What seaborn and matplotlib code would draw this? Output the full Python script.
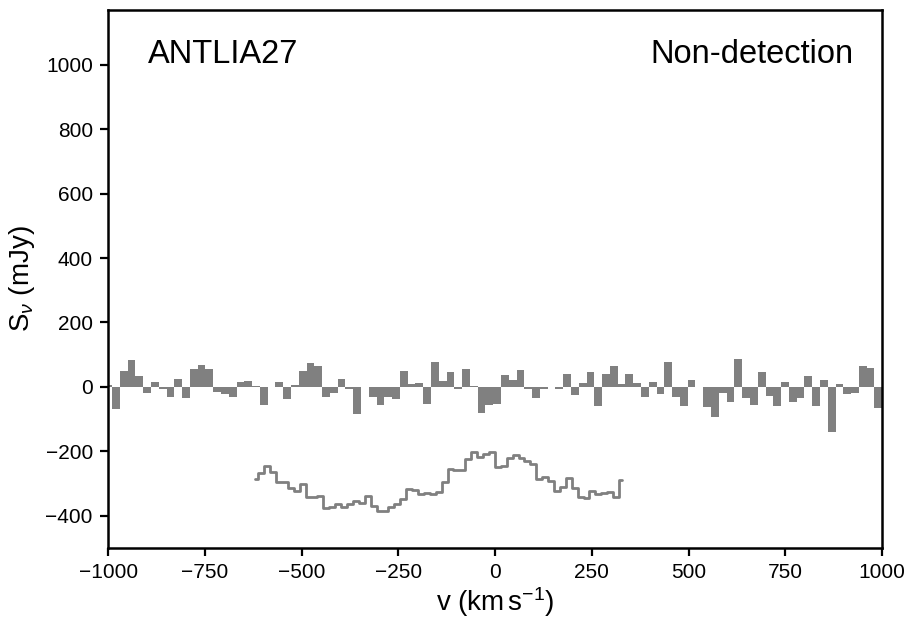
import numpy as np
import pandas as pd
import matplotlib
matplotlib.use("Agg")
import matplotlib.pyplot as plt
import seaborn as sns

# Channel grid of the detection spectrum (bars)
chan_start = -1009.8   # left edge of first channel, km/s
chan_width = 20.1      # km/s
flux_bars = [7, -70, 50, 84, 34, -18, 15, -6, -33, 25,
             -36, 56, 68, 56, -15, -21, -33, 15, 19, 2,
             -55, -2, 15, -39, 7, 50, 74, 65, -33, -18,
             25, -8, -83, -2, -30, -55, -30, -39, 50, 9,
             12, -52, 78, 19, 47, -6, 56, 3, -80, -55,
             -52, 37, 22, 53, -8, -36, -8, 0, -8, 40,
             -24, 12, 47, -61, 40, 65, 9, 40, 12, -30,
             15, -21, 78, -33, -61, 22, -2, -64, -95, -18,
             -46, 87, -36, -55, 47, -27, -61, 15, -46, -36,
             34, -58, 22, -139, 9, -21, -18, 65, 59, -67]

# Offset comparison spectrum (step line)
line_start = -619.4    # first channel centre, km/s
line_width = 15.28     # km/s
flux_line = [-286, -268, -245, -263, -297, -297, -313, -323, -301, -341,
             -341, -338, -377, -374, -363, -372, -363, -354, -361, -339,
             -370, -387, -385, -374, -363, -349, -317, -320, -332, -330,
             -332, -328, -297, -255, -258, -258, -224, -201, -218, -209,
             -203, -249, -245, -221, -211, -221, -229, -239, -286, -279,
             -292, -323, -310, -284, -315, -343, -346, -323, -333, -330,
             -325, -341, -289]

name = "ANTLIA27"
status = "Non-detection"

centres = chan_start + chan_width * (np.arange(len(flux_bars)) + 0.5)
bars = pd.DataFrame({"v": centres, "S": flux_bars})
line = pd.DataFrame({"v": line_start + line_width * np.arange(len(flux_line)),
                     "S": flux_line})

sns.set_theme(style="ticks")
plt.rcParams["font.family"] = ["Liberation Sans", "DejaVu Sans"]
plt.rcParams["mathtext.fontset"] = "custom"
plt.rcParams["mathtext.rm"] = "Liberation Sans"
plt.rcParams["mathtext.it"] = "Liberation Sans:italic"
plt.rcParams["text.color"] = "black"
plt.rcParams["axes.labelcolor"] = "black"

fig = plt.figure(figsize=(9.16, 6.29), dpi=100)
ax = fig.add_axes([0.118, 0.129, 0.845, 0.855])

sns.barplot(data=bars, x="v", y="S", native_scale=True, width=1,
            color="#808080", saturation=1, linewidth=0, errorbar=None, ax=ax)
sns.lineplot(data=line, x="v", y="S", color="#808080", linewidth=2.0,
             drawstyle="steps-mid", ax=ax)

ax.set_xlim(-1000, 1000)
ax.set_ylim(-500, 1170)
ax.set_xticks([-1000, -750, -500, -250, 0, 250, 500, 750, 1000])
ax.set_yticks([-400, -200, 0, 200, 400, 600, 800, 1000])
ax.tick_params(direction="out", length=6, width=1.6, labelsize=15,
               pad=5, colors="black")
for s in ax.spines.values():
    s.set_linewidth(1.8)
    s.set_color("black")

ax.set_xlabel(r"v (km$\,$s$^{-1}$)", fontsize=20, labelpad=2)
ax.set_ylabel(r"S$_{\nu}$ (mJy)", fontsize=20, labelpad=6)

ax.text(0.052, 0.917, name, transform=ax.transAxes, fontsize=23.5,
        ha="left", va="center")
ax.text(0.963, 0.917, status, transform=ax.transAxes, fontsize=23.5,
        ha="right", va="center")

fig.savefig("out.png", dpi=100)
